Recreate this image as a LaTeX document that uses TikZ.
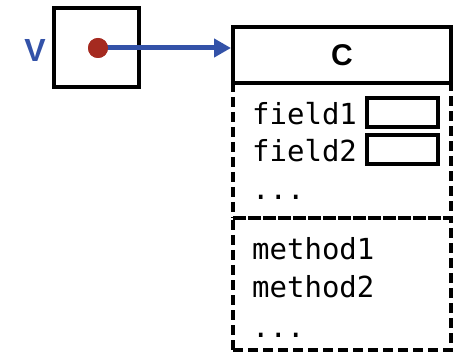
\documentclass[tikz,border=0pt]{standalone}
\usepackage{fontspec}
\setmainfont{Liberation Sans}
\setmonofont{DejaVu Sans Mono}
\usetikzlibrary{arrows.meta,positioning}
\definecolor{refblue}{RGB}{51,82,168}
\definecolor{refred}{RGB}{165,42,32}

\begin{document}
\begin{tikzpicture}[x=1pt, y=-1pt,
  varbox/.style={rectangle, draw=black, line width=3.5pt,
                 minimum width=85pt, minimum height=79pt, inner sep=0pt},
  refdot/.style={circle, fill=refred, minimum size=20pt, inner sep=0pt},
  hdbox/.style={rectangle, draw=black, line width=4pt,
                minimum width=218pt, minimum height=56pt, inner sep=0pt,
                font=\fontsize{30}{34}\selectfont\bfseries},
  secbox/.style={rectangle, draw=black, line width=3.5pt,
                 dash pattern=on 10pt off 5pt, minimum width=218pt, inner sep=0pt},
  slotbox/.style={rectangle, draw=black, line width=3.2pt,
                  minimum width=71pt, minimum height=29pt, inner sep=0pt},
  mtext/.style={anchor=base west, inner sep=0pt,
                font=\fontsize{29}{34}\selectfont\ttfamily},
  refarr/.style={-{Triangle[length=17pt, width=18pt]}, line width=5pt, draw=refblue}
]
\useasboundingbox (0,0) rectangle (457,352);

% Variable
\node[varbox] (var) at (96.5,47.5) {};
\node[refdot] (dot) at (98,48) {};
\node[font=\fontsize{32}{36}\selectfont\bfseries, text=refblue] (vlabel) at (35,50) {V};

% Object of class C
\node[secbox, minimum height=135pt] (fields) at (342,150.5) {};
\node[secbox, minimum height=132pt] (methods) at (342,284) {};
\node[hdbox] (hd) at (342,55) {C};

% Fields
\node[mtext] (f1) at (252,125) {field1};
\node[mtext] (f2) at (252,162) {field2};
\node[mtext] (fdots) at (252,200) {...};
\node[slotbox] (s1) at (402.5,112.5) {};
\node[slotbox] (s2) at (402.5,149.5) {};

% Methods
\node[mtext] (m1) at (252,259) {method1};
\node[mtext] (m2) at (252,297) {method2};
\node[mtext] (mdots) at (252,337) {...};

% Reference
\draw[refarr] (dot.center) -- (dot -| hd.west);
\node[refdot] at (dot) {};
\end{tikzpicture}
\end{document}
